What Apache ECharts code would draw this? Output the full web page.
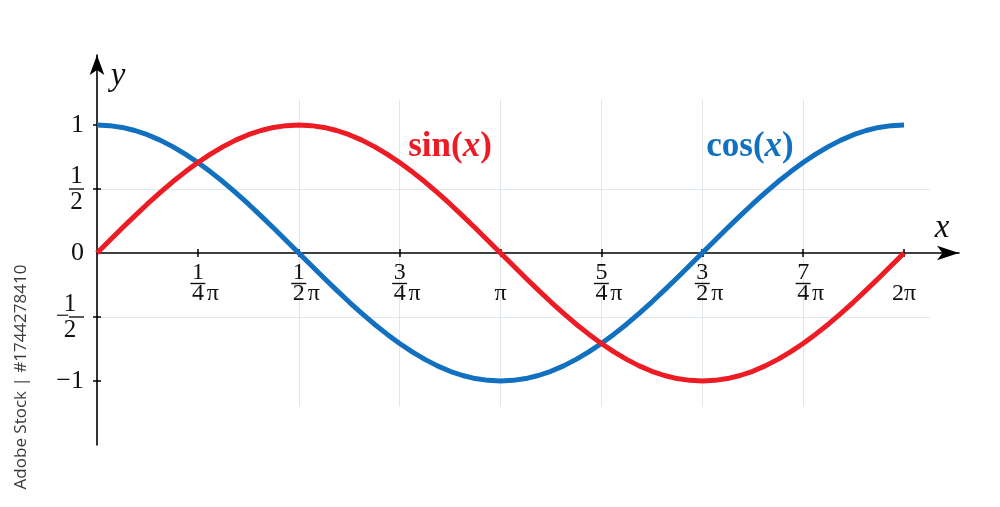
<!DOCTYPE html>
<html>
<head>
<meta charset="utf-8">
<script src="https://cdn.jsdelivr.net/npm/echarts@6/dist/echarts.min.js"></script>
<style>
html,body{margin:0;padding:0;background:#fff;}
#c{width:1000px;height:507px;}
</style>
</head>
<body>
<div id="c"></div>
<script>
// x positions in units of pi (step 1/32)
const xInPi = [0,0.03125,0.0625,0.09375,0.125,0.15625,0.1875,0.21875,0.25,0.28125,0.3125,0.34375,0.375,0.40625,0.4375,0.46875,
  0.5,0.53125,0.5625,0.59375,0.625,0.65625,0.6875,0.71875,0.75,0.78125,0.8125,0.84375,0.875,0.90625,0.9375,0.96875,
  1,1.03125,1.0625,1.09375,1.125,1.15625,1.1875,1.21875,1.25,1.28125,1.3125,1.34375,1.375,1.40625,1.4375,1.46875,
  1.5,1.53125,1.5625,1.59375,1.625,1.65625,1.6875,1.71875,1.75,1.78125,1.8125,1.84375,1.875,1.90625,1.9375,1.96875,2];
const sinValues = [0,0.098,0.195,0.290,0.383,0.471,0.556,0.634,0.707,0.773,0.831,0.882,0.924,0.957,0.981,0.995,
  1,0.995,0.981,0.957,0.924,0.882,0.831,0.773,0.707,0.634,0.556,0.471,0.383,0.290,0.195,0.098,
  0,-0.098,-0.195,-0.290,-0.383,-0.471,-0.556,-0.634,-0.707,-0.773,-0.831,-0.882,-0.924,-0.957,-0.981,-0.995,
  -1,-0.995,-0.981,-0.957,-0.924,-0.882,-0.831,-0.773,-0.707,-0.634,-0.556,-0.471,-0.383,-0.290,-0.195,-0.098,0];
const cosValues = [1,0.995,0.981,0.957,0.924,0.882,0.831,0.773,0.707,0.634,0.556,0.471,0.383,0.290,0.195,0.098,
  0,-0.098,-0.195,-0.290,-0.383,-0.471,-0.556,-0.634,-0.707,-0.773,-0.831,-0.882,-0.924,-0.957,-0.981,-0.995,
  -1,-0.995,-0.981,-0.957,-0.924,-0.882,-0.831,-0.773,-0.707,-0.634,-0.556,-0.471,-0.383,-0.290,-0.195,-0.098,
  0,0.098,0.195,0.290,0.383,0.471,0.556,0.634,0.707,0.773,0.831,0.882,0.924,0.957,0.981,0.995,1];
const xTickLabels = ['1/4π','1/2π','3/4π','π','5/4π','3/2π','7/4π','2π'];
const yTickValues = [-1,-0.5,0,0.5,1];
const yTickLabels = ['−1','−1/2','0','1/2','1'];

const PI = Math.PI;
const Q = PI / 4;
const xTickValues = xTickLabels.map((_, i) => (i + 1) * Q);
const sinData = xInPi.map((x, i) => [x * PI, sinValues[i]]);
const cosData = xInPi.map((x, i) => [x * PI, cosValues[i]]);

const FONT = 'Liberation Serif';
const RED = '#ed1c24';
const BLUE = '#1170c0';
const GRID_C = '#dfe6ec';
const INK = '#111';

const rich = {
  sp: { width: 15, lineHeight: 3, fontSize: 4 },
  n: { width: 15, align: 'center', fontSize: 24, lineHeight: 18, fontFamily: FONT, color: INK },
  yn: { width: 15, align: 'center', fontSize: 25, lineHeight: 23, fontFamily: FONT, color: INK },
  blank: { width: 15, lineHeight: 18, fontSize: 4 },
  bar: { width: 15, height: 1.4, lineHeight: 3, backgroundColor: INK, fontSize: 2 },
  pi: { width: 15, align: 'left', fontSize: 24, lineHeight: 18, fontFamily: FONT, color: INK },
  whole: { fontSize: 24, lineHeight: 18, fontFamily: FONT, color: INK },
  big: { fontSize: 26, fontFamily: FONT, color: INK, lineHeight: 26 },
  minus: { width: 13, align: 'left', fontSize: 24, lineHeight: 3, fontFamily: FONT, color: INK }
};

function xLabel(value) {
  const i = Math.round(value / Q) - 1;
  const s = xTickLabels[i];
  if (!s) return '';
  if (s.indexOf('/') >= 0) {
    const num = s.split('/')[0];
    const den = s.split('/')[1].replace('π', '');
    return '{sp| }{n|' + num + '}{sp| }\n{sp| }{bar| }{sp| }\n{sp| }{n|' + den + '}{pi|π}';
  }
  return '{blank| }\n{sp| }\n{whole|' + s + '}';
}
function yLabel(value) {
  const i = yTickValues.indexOf(value);
  if (i < 0) return '';
  const s = yTickLabels[i];
  if (s.indexOf('/') >= 0) {
    const neg = s.charAt(0) === '−';
    const parts = s.replace('−', '').split('/');
    return '{yn|' + parts[0] + '}\n' + (neg ? '{minus|−}' : '') + '{bar| }\n{yn|' + parts[1] + '}';
  }
  return '{big|' + s + '}';
}

// pixel layout helpers for scale ranges
const X0 = 97, X2PI = 904, Y0 = 253, UNIT = 128;
const pxPerRad = (X2PI - X0) / (2 * PI);

const chart = echarts.init(document.getElementById('c'), null, { renderer: 'canvas' });
chart.setOption({
  animation: false,
  backgroundColor: '#fff',
  grid: [
    { left: X0, top: Y0 - 1.2 * UNIT, width: 930 - X0, height: 2.4 * UNIT, containLabel: false },
    { left: X0, right: 1000 - 959, top: 150, bottom: 507 - Y0, containLabel: false },
    { left: X0, right: 1000 - 959, top: 55, bottom: 507 - 445, containLabel: false }
  ],
  xAxis: [
    {
      gridIndex: 0, type: 'value', min: 0, max: (930 - X0) / pxPerRad, interval: Q,
      axisLine: { show: false, onZero: true },
      axisTick: { show: true, inside: true, length: 4, customValues: xTickValues, lineStyle: { color: '#000', width: 1.5 } },
      axisLabel: { show: false },
      splitLine: { show: true, showMinLine: false, showMaxLine: false, lineStyle: { color: GRID_C, width: 1 } }
    },
    {
      gridIndex: 1, type: 'value', min: 0, max: (959 - X0) / pxPerRad, position: 'bottom',
      axisLine: { show: true, onZero: false, symbol: ['none', 'arrow'], symbolSize: [11, 22], lineStyle: { color: '#000', width: 1.6 } },
      axisTick: { show: true, inside: false, length: 4, customValues: xTickValues, lineStyle: { color: '#000', width: 1.5 } },
      axisLabel: { show: true, margin: 11, customValues: xTickValues, formatter: xLabel, rich: rich, fontFamily: FONT },
      splitLine: { show: false }
    },
    {
      gridIndex: 2, type: 'value', min: 0, max: 1, show: false
    }
  ],
  yAxis: [
    {
      gridIndex: 0, type: 'value', min: -1.2, max: 1.2,
      axisLine: { show: false },
      axisTick: { show: true, inside: true, length: 4, customValues: [-1, -0.5, 0.5, 1], lineStyle: { color: '#000', width: 1.5 } },
      axisLabel: { show: false },
      splitLine: { show: true, showMinLine: false, showMaxLine: false, lineStyle: { color: GRID_C, width: 1 } }
    },
    {
      gridIndex: 1, type: 'value', min: 0, max: 1, show: false
    },
    {
      gridIndex: 2, type: 'value', min: -(445 - Y0) / UNIT, max: (Y0 - 55) / UNIT, position: 'left',
      axisLine: { show: true, onZero: false, symbol: ['none', 'arrow'], symbolSize: [11, 20], lineStyle: { color: '#000', width: 1.6 } },
      axisTick: { show: true, inside: false, length: 4, customValues: [-1, -0.5, 0.5, 1], lineStyle: { color: '#000', width: 1.5 } },
      axisLabel: { show: true, margin: 13, customValues: yTickValues, formatter: yLabel, rich: rich, align: 'right' },
      splitLine: { show: false }
    }
  ],
  series: [
    {
      name: 'cos(x)', type: 'line', xAxisIndex: 0, yAxisIndex: 0, data: cosData, smooth: false,
      showSymbol: false, lineStyle: { color: BLUE, width: 5, join: 'round' }, z: 3
    },
    {
      name: 'sin(x)', type: 'line', xAxisIndex: 0, yAxisIndex: 0, data: sinData, smooth: false,
      showSymbol: false, lineStyle: { color: RED, width: 5, join: 'round' }, z: 4
    }
  ],
  graphic: [
    {
      type: 'text', x: 450, y: 147, z: 10,
      style: {
        text: '{b|sin(}{i|x}{b|)}', align: 'center', verticalAlign: 'middle',
        rich: {
          b: { fontFamily: FONT, fontWeight: 'bold', fontSize: 35, fill: RED, color: RED },
          i: { fontFamily: FONT, fontWeight: 'bold', fontStyle: 'italic', fontSize: 35, fill: RED, color: RED }
        }
      }
    },
    {
      type: 'text', x: 750, y: 147, z: 10,
      style: {
        text: '{b|cos(}{i|x}{b|)}', align: 'center', verticalAlign: 'middle',
        rich: {
          b: { fontFamily: FONT, fontWeight: 'bold', fontSize: 35, fill: BLUE, color: BLUE },
          i: { fontFamily: FONT, fontWeight: 'bold', fontStyle: 'italic', fontSize: 35, fill: BLUE, color: BLUE }
        }
      }
    },
    {
      type: 'text', x: 118, y: 76, z: 10,
      style: { text: 'y', fontFamily: FONT, fontStyle: 'italic', fontSize: 33, fill: INK, align: 'center', verticalAlign: 'middle' }
    },
    {
      type: 'text', x: 942, y: 228, z: 10,
      style: { text: 'x', fontFamily: FONT, fontStyle: 'italic', fontSize: 33, fill: INK, align: 'center', verticalAlign: 'middle' }
    },
    {
      type: 'text', x: 21, y: 377, rotation: Math.PI / 2, z: 10,
      style: { text: 'Adobe Stock | #1744278410', fontFamily: 'Open Sans', fontSize: 17, fill: '#3a3a3a', align: 'center', verticalAlign: 'middle' }
    }
  ]
});
</script>
</body>
</html>
